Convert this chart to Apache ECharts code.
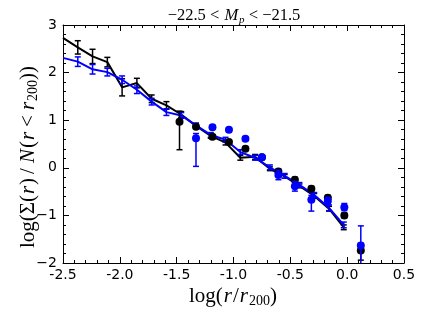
<!DOCTYPE html>
<html><head><meta charset="utf-8">
<script src="https://cdn.jsdelivr.net/npm/echarts@6/dist/echarts.min.js"></script>
<style>html,body{margin:0;padding:0;background:#fff}#c{width:425px;height:319px}</style>
</head><body><div id="c"></div>
<script>
// Binned profile (lines with error bars)
const lineX = [-2.5, -2.37, -2.24, -2.11, -1.98, -1.85, -1.72, -1.59, -1.46, -1.33, -1.20, -1.07, -0.94, -0.81, -0.68, -0.55, -0.42, -0.29, -0.16, -0.03];
const blackLineY = [2.73, 2.53, 2.34, 2.22, 1.69, 1.78, 1.45, 1.31, 1.12, 0.88, 0.67, 0.53, 0.21, 0.23, -0.02, -0.18, -0.38, -0.59, -0.86, -1.25];
const blackLineErr = [null, 0.14, 0.15, 0.10, 0.18, 0.10, 0.08, 0.08, 0.06, 0.05, 0.05, 0.05, 0.05, 0.05, 0.04, 0.04, 0.04, 0.05, 0.05, 0.05];
const blueLineY = [2.31, 2.23, 2.07, 2.01, 1.85, 1.64, 1.39, 1.17, 1.10, 0.89, 0.69, 0.59, 0.33, 0.21, 0.01, -0.17, -0.36, -0.57, -0.84, -1.20];
const blueLineErr = [null, 0.10, 0.10, 0.08, 0.08, 0.08, 0.07, 0.07, 0.06, 0.05, 0.05, 0.05, 0.05, 0.05, 0.05, 0.05, 0.05, 0.05, 0.06, 0.06];
// Individual points (dots with error bars)
const dotX = [-1.475, -1.33, -1.185, -1.04, -0.895, -0.75, -0.605, -0.46, -0.315, -0.17, -0.025, 0.12];
const blackDotY = [0.97, 0.86, 0.65, 0.54, 0.40, 0.22, -0.08, -0.25, -0.44, -0.63, -1.00, -1.74];
const blackDotErrLo = [0.59, 0.04, 0.04, 0.04, 0.04, 0.04, 0.05, 0.05, 0.05, 0.05, 0.05, 0.20];
const blackDotErrHi = [0.22, 0.04, 0.04, 0.04, 0.04, 0.04, 0.05, 0.05, 0.05, 0.05, 0.05, 0.15];
const blueDotY = [null, 0.62, 0.85, 0.80, 0.61, 0.22, -0.15, -0.39, -0.67, -0.70, -0.83, -1.63];
const blueDotErrLo = [null, 0.59, 0.04, 0.04, 0.04, 0.04, 0.10, 0.10, 0.24, 0.08, 0.07, 0.50];
const blueDotErrHi = [null, 0.10, 0.04, 0.04, 0.04, 0.04, 0.10, 0.10, 0.09, 0.08, 0.08, 0.41];
const xTicks = [-2.5, -2.0, -1.5, -1.0, -0.5, 0.0, 0.5];
const yTicks = [-2, -1, 0, 1, 2, 3];

const BLUE = '#0000ff', BLACK = '#000000';

function errData(xs, ys, lo, hi) {
  const out = [];
  xs.forEach((x, i) => {
    if (ys[i] == null || lo[i] == null) return;
    out.push([x, ys[i] - lo[i], ys[i] + hi[i]]);
  });
  return out;
}
function errSeries(data, color, z) {
  return {
    type: 'custom', data: data, clip: true, z: z, silent: true,
    renderItem: function (params, api) {
      const x = api.value(0);
      const a = api.coord([x, api.value(1)]);
      const b = api.coord([x, api.value(2)]);
      const w = 3;
      const st = { stroke: color, lineWidth: 1.5, fill: null };
      return { type: 'group', children: [
        { type: 'line', shape: { x1: a[0], y1: a[1], x2: b[0], y2: b[1] }, style: st },
        { type: 'line', shape: { x1: a[0] - w, y1: a[1], x2: a[0] + w, y2: a[1] }, style: st },
        { type: 'line', shape: { x1: b[0] - w, y1: b[1], x2: b[0] + w, y2: b[1] }, style: st }
      ]};
    }
  };
}
const pairs = (xs, ys) => xs.map((x, i) => [x, ys[i]]).filter(p => p[1] != null);

const tickFont = { fontFamily: 'DejaVu Sans', fontSize: 14, color: '#000' };
const axisCommon = {
  axisLine: { show: true, onZero: false, lineStyle: { color: '#000', width: 1 } },
  axisTick: { show: true, inside: true, length: 6, lineStyle: { color: '#000', width: 1 } },
  minorTick: { show: true, splitNumber: 5, length: 3, lineStyle: { color: '#000', width: 1 } },
  splitLine: { show: false }
};

function mathRich(size, subSize, subDrop) {
  return {
    n: { fontFamily: 'Liberation Serif', fontSize: size, fill: '#000' },
    i: { fontFamily: 'Liberation Serif', fontStyle: 'italic', fontSize: size, fill: '#000', padding: [0, 1, 0, 1] },
    o: { fontFamily: 'Liberation Serif', fontSize: size, fill: '#000', padding: [0, 4, 0, 4] },
    s: { fontFamily: 'Liberation Serif', fontSize: subSize, fill: '#000', padding: [subDrop, 0, 0, 0] },
    si: { fontFamily: 'Liberation Serif', fontStyle: 'italic', fontSize: subSize, fill: '#000', padding: [subDrop, 0, 0, 0] }
  };
}

const chart = echarts.init(document.getElementById('c'), null, { renderer: 'canvas' });
chart.setOption({
  animation: false,
  backgroundColor: '#fff',
  grid: { left: 63, right: 21, top: 25, bottom: 56 },
  xAxis: [
    Object.assign({ type: 'value', position: 'bottom', min: xTicks[0], max: xTicks[xTicks.length - 1], interval: 0.5,
      axisLabel: Object.assign({ margin: 5, formatter: v => v.toFixed(1) }, tickFont) }, axisCommon),
    Object.assign({ type: 'value', position: 'top', min: xTicks[0], max: xTicks[xTicks.length - 1], interval: 0.5,
      axisLabel: { show: false } }, axisCommon)
  ],
  yAxis: [
    Object.assign({ type: 'value', position: 'left', min: yTicks[0], max: yTicks[yTicks.length - 1], interval: 1,
      axisLabel: Object.assign({ margin: 6, formatter: v => (v < 0 ? '\u2212' + Math.abs(v) : String(v)) }, tickFont) }, axisCommon),
    Object.assign({ type: 'value', position: 'right', min: yTicks[0], max: yTicks[yTicks.length - 1], interval: 1,
      axisLabel: { show: false } }, axisCommon)
  ],
  series: [
    { type: 'line', data: pairs(lineX, blackLineY), showSymbol: false, symbol: 'none',
      lineStyle: { color: BLACK, width: 2 }, z: 2, clip: true },
    errSeries(errData(lineX, blackLineY, blackLineErr, blackLineErr), BLACK, 2),
    { type: 'line', data: pairs(lineX, blueLineY), showSymbol: false, symbol: 'none',
      lineStyle: { color: BLUE, width: 2 }, z: 3, clip: true },
    errSeries(errData(lineX, blueLineY, blueLineErr, blueLineErr), BLUE, 3),
    errSeries(errData(dotX, blackDotY, blackDotErrLo, blackDotErrHi), BLACK, 4),
    { type: 'scatter', data: pairs(dotX, blackDotY), symbol: 'circle', symbolSize: 8,
      itemStyle: { color: BLACK, opacity: 1 }, z: 4 },
    errSeries(errData(dotX, blueDotY, blueDotErrLo, blueDotErrHi), BLUE, 5),
    { type: 'scatter', data: pairs(dotX, blueDotY), symbol: 'circle', symbolSize: 8,
      itemStyle: { color: BLUE, opacity: 1 }, z: 5 }
  ],
  graphic: [
    { type: 'text', x: 234, y: 16, style: {
        text: '{n|\u221222.5 < }{i|M}{si|p}{n| < \u221221.5}',
        align: 'center', verticalAlign: 'middle',
        rich: mathRich(16.5, 11, 9) } },
    { type: 'text', x: 233, y: 296, style: {
        text: '{n|log(}{i|r}{n|/}{i|r}{s|200}{n|)}',
        align: 'center', verticalAlign: 'middle',
        rich: mathRich(21, 14, 11) } },
    { type: 'text', x: 28, y: 157, rotation: Math.PI / 2, style: {
        text: '{n|log(\u03A3(}{i|r}{n|)}{o|/}{i|N}{n|(}{i|r}{o|<}{i|r}{s|200}{n|))}',
        align: 'center', verticalAlign: 'middle',
        rich: mathRich(21, 14, 11) } }
  ]
});
</script>
</body></html>
